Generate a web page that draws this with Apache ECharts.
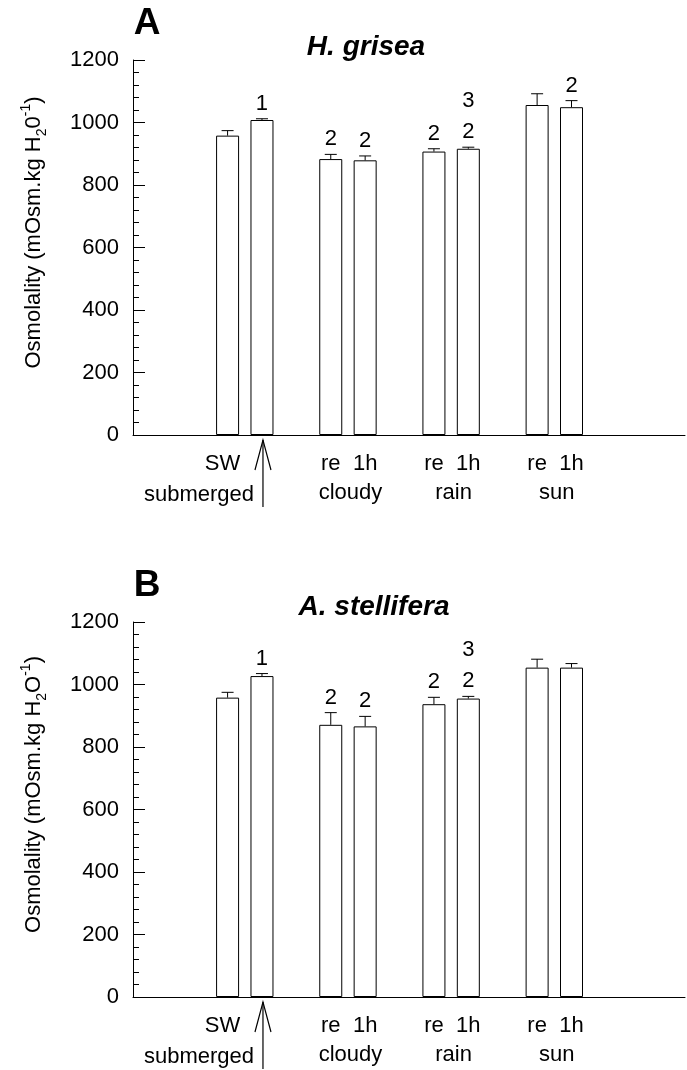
<!DOCTYPE html>
<html>
<head>
<meta charset="utf-8">
<script src="https://cdn.jsdelivr.net/npm/echarts@6/dist/echarts.min.js"></script>
<style>
html, body { margin: 0; padding: 0; background: #fff; }
#chart { width: 687px; height: 1070px; }
</style>
</head>
<body>
<div id="chart"></div>
<script>
// bar slots along the x axis (pairs per condition)
var slotPos = [2.75, 3.75, 5.75, 6.75, 8.75, 9.75, 11.75, 12.75];
var subLabels = ['SW', '', 're', '1h', 're', '1h', 're', '1h'];
var groupNames = ['submerged', 'cloudy', 'rain', 'sun'];
var yTicks = [0, 200, 400, 600, 800, 1000, 1200];

// panel A - H. grisea
var griseaMean = [958, 1008, 883, 879, 907, 916, 1056, 1049];
var griseaErr = [16, 4, 15, 14, 9, 5, 36, 21];
var griseaMarks = [[], ['1'], ['2'], ['2'], ['2'], ['2', '3'], [], ['2']];

// panel B - A. stellifera
var stelliferaMean = [958, 1027, 871, 866, 937, 955, 1054, 1054];
var stelliferaErr = [17, 8, 39, 32, 22, 7, 27, 13];
var stelliferaMarks = [[], ['1'], ['2'], ['2'], ['2'], ['2', '3'], [], []];

var FONT = 'Liberation Sans, Arial, sans-serif';

function makeYAxis(idx, zero) {
    return {
        type: 'value',
        gridIndex: idx,
        min: yTicks[0],
        max: yTicks[yTicks.length - 1],
        interval: yTicks[1] - yTicks[0],
        axisLine: { show: true, lineStyle: { color: '#000', width: 1 } },
        axisTick: { show: true, inside: true, length: 12, lineStyle: { color: '#000' } },
        minorTick: { show: true, splitNumber: 5, length: 6, lineStyle: { color: '#000' } },
        splitLine: { show: false },
        axisLabel: {
            color: '#000', fontSize: 22, fontFamily: FONT, margin: 14,
            formatter: function (v) { return String(v); }
        },
        name: 'Osmolality (mOsm.kg H{sub|2}' + zero + '{sup|-1})',
        nameLocation: 'middle',
        nameGap: 84,
        nameTextStyle: {
            color: '#000', fontSize: 22, fontFamily: FONT, lineHeight: 30,
            padding: [0, 0, 0, 30],
            rich: {
                sub: { fontSize: 14, fontFamily: FONT, color: '#000', verticalAlign: 'bottom', lineHeight: 14 },
                sup: { fontSize: 14, fontFamily: FONT, color: '#000', verticalAlign: 'top', lineHeight: 14 }
            }
        }
    };
}

function makeXAxis(idx) {
    return {
        type: 'value',
        gridIndex: idx,
        min: 0,
        max: 16.05,
        axisLine: { show: true, onZero: false, lineStyle: { color: '#000', width: 1 } },
        axisTick: { show: false },
        axisLabel: { show: false },
        splitLine: { show: false }
    };
}

function barSeries(idx, mean) {
    return {
        type: 'bar',
        xAxisIndex: idx,
        yAxisIndex: idx,
        barWidth: 23,
        silent: true,
        itemStyle: { color: '#fff', borderColor: '#000', borderWidth: 1 },
        data: slotPos.map(function (x, i) { return [x, mean[i]]; })
    };
}

/* error bars (upper half only) and the significance numbers above them */
function errorSeries(idx, mean, err, marks) {
    return {
        type: 'custom',
        xAxisIndex: idx,
        yAxisIndex: idx,
        silent: true,
        z: 5,
        data: slotPos.map(function (x, i) { return [x, mean[i], mean[i] + err[i], i]; }),
        renderItem: function (params, api) {
            var top = api.coord([api.value(0), api.value(1)]);
            var cap = api.coord([api.value(0), api.value(2)]);
            var i = api.value(3);
            var children = [
                { type: 'line', shape: { x1: top[0], y1: top[1], x2: cap[0], y2: cap[1] }, style: { stroke: '#000', lineWidth: 1 } },
                { type: 'line', shape: { x1: cap[0] - 6, y1: cap[1], x2: cap[0] + 6, y2: cap[1] }, style: { stroke: '#000', lineWidth: 1 } }
            ];
            marks[i].forEach(function (t, k) {
                children.push({
                    type: 'text',
                    style: {
                        text: t, x: cap[0], y: cap[1] - 15 - k * 31,
                        align: 'center', verticalAlign: 'middle',
                        font: '22px ' + FONT, fill: '#000'
                    }
                });
            });
            return { type: 'group', children: children };
        }
    };
}

/* category text under the axis, plus the "submerged" arrow */
function labelSeries(idx) {
    return {
        type: 'custom',
        xAxisIndex: idx,
        yAxisIndex: idx,
        silent: true,
        data: slotPos.map(function (x, i) { return [x, i]; }),
        renderItem: function (params, api) {
            var i = api.value(1);
            var p = api.coord([api.value(0), 0]);
            var txt = function (s, x, y, align) {
                return {
                    type: 'text',
                    style: { text: s, x: x, y: y, align: align || 'center', verticalAlign: 'middle', font: '22px ' + FONT, fill: '#000' }
                };
            };
            var children = [];
            if (subLabels[i]) children.push(txt(subLabels[i], p[0] - (i === 0 ? 5 : 0), p[1] + 29));
            if (i === 1) {
                var ax = p[0] + 1;
                children.push({ type: 'polyline', shape: { points: [[ax - 8, p[1] + 35], [ax, p[1] + 5], [ax + 8, p[1] + 35]] }, style: { stroke: '#000', lineWidth: 1.2, fill: null } });
                children.push({ type: 'line', shape: { x1: ax, y1: p[1] + 5, x2: ax, y2: p[1] + 72 }, style: { stroke: '#000', lineWidth: 1.2 } });
                children.push(txt(groupNames[0], ax - 9, p[1] + 60, 'right'));
            }
            if (i > 1 && i % 2 === 1) {
                var prev = api.coord([slotPos[i - 1], 0]);
                children.push(txt(groupNames[(i - 1) / 2], (prev[0] + p[0]) / 2 + 2.5, p[1] + 58));
            }
            return { type: 'group', children: children };
        }
    };
}

var chart = echarts.init(document.getElementById('chart'));

var option = {
    animation: false,
    backgroundColor: '#fff',
    grid: [
        { left: 133, top: 60, width: 552, height: 375 },
        { left: 133, top: 622, width: 552, height: 375 }
    ],
    xAxis: [makeXAxis(0), makeXAxis(1)],
    yAxis: [makeYAxis(0, '0'), makeYAxis(1, 'O')],
    graphic: [
        { type: 'text', x: 147, y: 24, style: { text: 'A', font: 'bold 37px ' + FONT, fill: '#000', align: 'center', verticalAlign: 'middle' } },
        { type: 'text', x: 366, y: 47, style: { text: 'H. grisea', font: 'italic bold 28px ' + FONT, fill: '#000', align: 'center', verticalAlign: 'middle' } },
        { type: 'text', x: 147, y: 586, style: { text: 'B', font: 'bold 37px ' + FONT, fill: '#000', align: 'center', verticalAlign: 'middle' } },
        { type: 'text', x: 374, y: 607, style: { text: 'A. stellifera', font: 'italic bold 28px ' + FONT, fill: '#000', align: 'center', verticalAlign: 'middle' } }
    ],
    series: [
        barSeries(0, griseaMean),
        errorSeries(0, griseaMean, griseaErr, griseaMarks),
        labelSeries(0),
        barSeries(1, stelliferaMean),
        errorSeries(1, stelliferaMean, stelliferaErr, stelliferaMarks),
        labelSeries(1)
    ]
};

chart.setOption(option);
</script>
</body>
</html>
